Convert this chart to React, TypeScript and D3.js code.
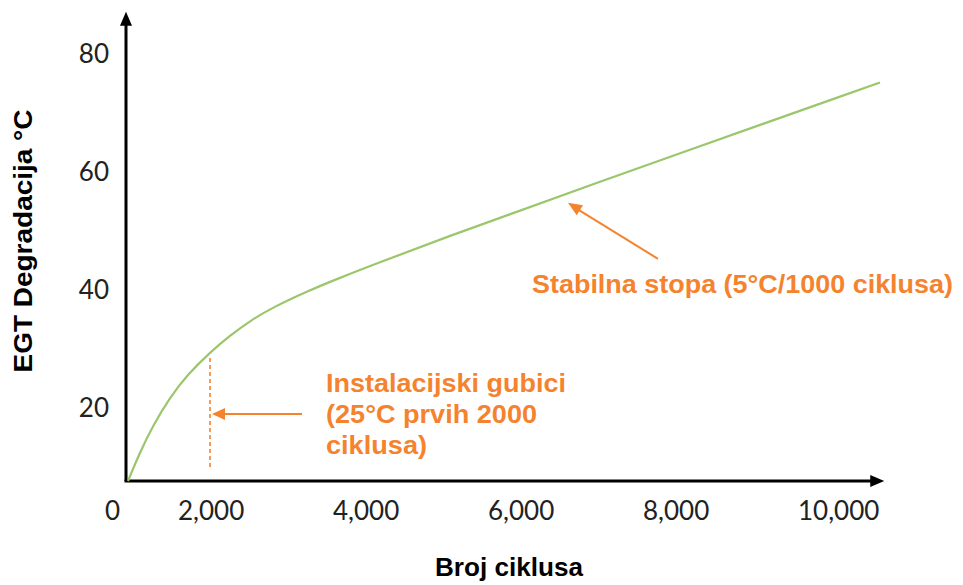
import React from "react";
import * as d3 from "d3";

const cycles = [0, 293, 610, 1024, 1439, 2000, 2258, 2516, 2813, 3252, 3677, 4103, 4968, 6619, 10645];
const degradation = [0, 7.8, 15.0, 21.6, 25.4, 29.25, 32.1, 34.6, 36.9, 39.6, 41.9, 44.1, 48.4, 56.3, 75.0];
const xTicks = [2000, 4000, 6000, 8000, 10000];
const xTickLabels = ["2,000", "4,000", "6,000", "8,000", "10,000"];
const yTicks = [20, 40, 60, 80];
const installLines = ["Instalacijski gubici", "(25°C prvih 2000", "ciklusa)"];
const installWidths = [240, 211, 101];
const stableText = "Stabilna stopa (5°C/1000 ciklusa)";

const W = 963;
const H = 585;

export default function App() {
  const x = d3.scaleLinear().domain([0, 2000, 10000]).range([128, 210, 830]);
  const y = d3.scaleLinear().domain([0, 20, 80]).range([481, 407, 53]);
  const line = d3
    .line<number>()
    .x((_, i) => x(cycles[i]))
    .y((d) => y(d))
    .curve(d3.curveBasis);

  const green = "#9cc66b";
  const orange = "#f5832e";
  const ax0 = x(0) - 2;
  const ay0 = y(0);
  const xEnd = x(10700);
  const yEnd = y(87);

  const dashX = x(2000);
  const arrowY = 414;
  const a2tip = { x: x(6619), y: y(56.3) + 10 };
  const a2tail = { x: a2tip.x + 90, y: a2tip.y + 56 };

  const arrowHead = (tx: number, ty: number, fx: number, fy: number, len: number, half: number) => {
    const ang = Math.atan2(ty - fy, tx - fx);
    const bx = tx - len * Math.cos(ang);
    const by = ty - len * Math.sin(ang);
    const px = -Math.sin(ang) * half;
    const py = Math.cos(ang) * half;
    return `M${tx},${ty}L${bx + px},${by + py}L${bx - px},${by - py}Z`;
  };

  return (
    <svg width={W} height={H} style={{ position: "absolute", left: 0, top: 0, background: "#fff" }}>
      <rect width={W} height={H} fill="#fff" />
      <line x1={ax0} y1={ay0} x2={ax0} y2={yEnd + 12} stroke="#000" strokeWidth={3} />
      <path d={`M${ax0},${yEnd}L${ax0 - 6},${yEnd + 14}L${ax0 + 6},${yEnd + 14}Z`} fill="#000" />
      <line x1={ax0 - 1.5} y1={ay0} x2={xEnd - 12} y2={ay0} stroke="#000" strokeWidth={3} />
      <path d={`M${xEnd},${ay0}L${xEnd - 14},${ay0 - 6}L${xEnd - 14},${ay0 + 6}Z`} fill="#000" />

      {yTicks.map((t) => (
        <text key={t} x={ax0 - 17} y={y(t)} textAnchor="end" dominantBaseline="central"
          fontFamily="Lato, 'Open Sans', sans-serif" fontSize={26} fill="#222">{t}</text>
      ))}
      <text x={105} y={520} fontFamily="Lato, 'Open Sans', sans-serif" fontSize={26} fill="#222">0</text>
      {xTicks.map((t, i) => (
        <text key={t} x={x(t) - 32} y={520} fontFamily="Lato, 'Open Sans', sans-serif" fontSize={26} fill="#222">
          {xTickLabels[i]}
        </text>
      ))}

      <text x={509} y={576} textAnchor="middle" fontFamily="'Liberation Sans', Arial, sans-serif" fontWeight="bold"
        fontSize={25} textLength={148} lengthAdjust="spacingAndGlyphs" fill="#000">Broj ciklusa</text>
      <text transform={`translate(32,241) rotate(-90)`} textAnchor="middle" fontFamily="'Liberation Sans', Arial, sans-serif"
        fontWeight="bold" fontSize={25} textLength={263} lengthAdjust="spacingAndGlyphs" fill="#000">EGT Degradacija °C</text>

      <path d={line(degradation) || ""} fill="none" stroke={green} strokeWidth={2.2} />

      <line x1={dashX} y1={358} x2={dashX} y2={468} stroke={orange} strokeWidth={1.6} strokeDasharray="4,3" />
      <line x1={302} y1={arrowY} x2={dashX + 12} y2={arrowY} stroke={orange} strokeWidth={2} />
      <path d={arrowHead(dashX + 2, arrowY, 302, arrowY, 13, 6)} fill={orange} />
      {installLines.map((s, i) => (
        <text key={s} x={326} y={392 + i * 31} fontFamily="'Liberation Sans', Arial, sans-serif" fontWeight="bold"
          fontSize={25} textLength={installWidths[i]} lengthAdjust="spacingAndGlyphs" fill={orange}>{s}</text>
      ))}

      <line x1={a2tail.x} y1={a2tail.y} x2={a2tip.x + 9} y2={a2tip.y + 6} stroke={orange} strokeWidth={2} />
      <path d={arrowHead(a2tip.x, a2tip.y, a2tail.x, a2tail.y, 14, 6)} fill={orange} />
      <text x={532} y={293} fontFamily="'Liberation Sans', Arial, sans-serif" fontWeight="bold" fontSize={25}
        textLength={421} lengthAdjust="spacingAndGlyphs" fill={orange}>{stableText}</text>
    </svg>
  );
}
